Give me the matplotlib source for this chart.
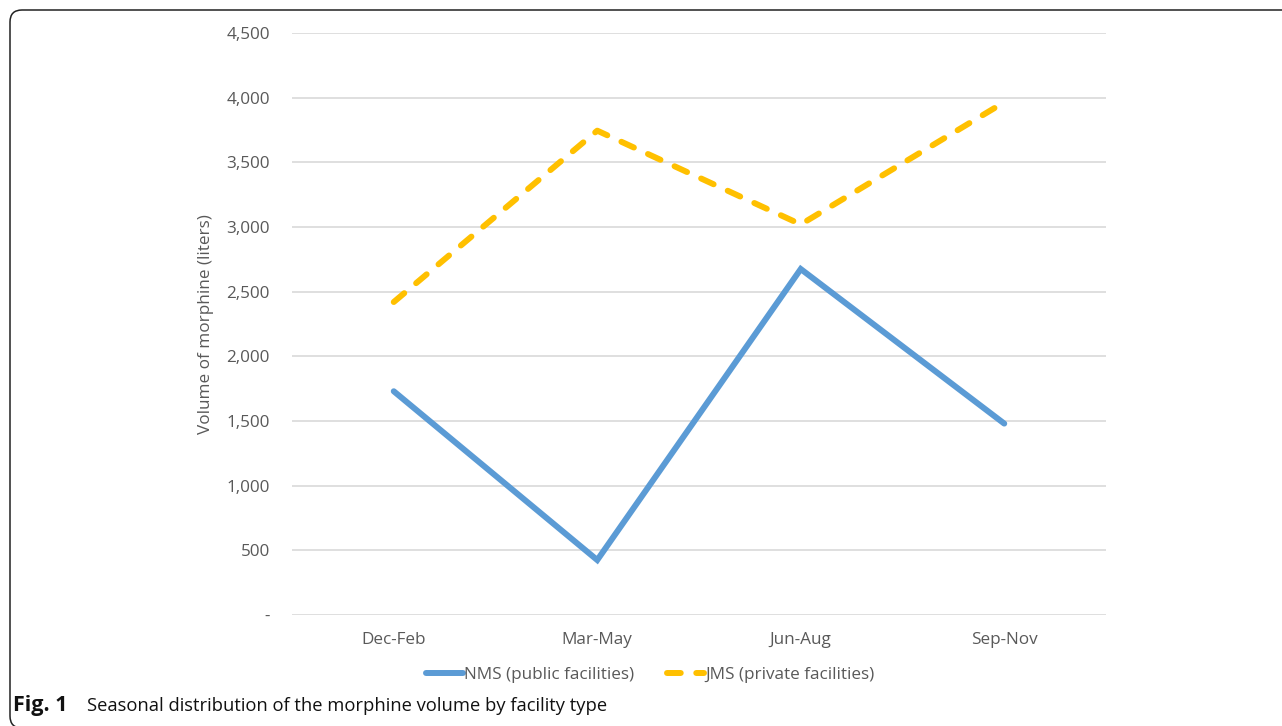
import matplotlib
matplotlib.use('Agg')
import matplotlib.pyplot as plt
from matplotlib.patches import FancyBboxPatch
from matplotlib.transforms import IdentityTransform
from matplotlib.ticker import FuncFormatter

seasons = ['Dec-Feb', 'Mar-May', 'Jun-Aug', 'Sep-Nov']
nms = [1730, 425, 2675, 1480]
jms = [2420, 3745, 3020, 3965]
nms_label = 'NMS (public facilities)'
jms_label = 'JMS (private facilities)'
ylabel = 'Volume of morphine (liters)'

plt.rcParams['font.family'] = ['Open Sans', 'DejaVu Sans']
txt = '#595959'
fs = 12.3

fig = plt.figure(figsize=(12.82, 7.26), dpi=100)
ax = fig.add_axes([292/1282, 1-615/726, (1106-292)/1282, (615-33)/726])

x = range(len(seasons))
ax.plot(x, nms, color='#5B9BD5', lw=4.3, solid_capstyle='round',
        solid_joinstyle='miter', label=nms_label)
ax.plot(x, jms, color='#FFC000', lw=4.3, dashes=(2.3, 2.6),
        dash_capstyle='round', label=jms_label)

ax.set_xlim(-0.5, len(seasons)-0.5)
ax.set_ylim(0, 4500)
ax.set_yticks(range(0, 4501, 500))
ax.yaxis.set_major_formatter(FuncFormatter(lambda v, p: '-' if v == 0 else f'{int(v):,}'))
ax.set_xticks(list(x))
ax.set_xticklabels(seasons)
ax.grid(axis='y', color='#D9D9D9', lw=1.2)
ax.set_axisbelow(True)
for s in ax.spines.values():
    s.set_visible(False)
ax.tick_params(axis='y', length=0, pad=16, labelsize=fs, labelcolor=txt)
ax.tick_params(axis='x', length=0, pad=12, labelsize=fs, labelcolor=txt)
ax.set_ylabel(ylabel, fontsize=fs, color=txt, labelpad=9)

fig.legend(loc='center', bbox_to_anchor=(650/1282, 1-675/726), ncol=2,
           frameon=False, fontsize=fs, handlelength=2.2, handletextpad=0.05,
           columnspacing=1.9, labelcolor=txt)

fig.text(13/1282, 1-706/726, 'Fig. 1', fontsize=15.5, fontweight='bold',
         va='center', ha='left', color='#111111')
fig.text(87/1282, 1-706/726, 'Seasonal distribution of the morphine volume by facility type',
         fontsize=13.2, va='center', ha='left', color='#111111')

frame = FancyBboxPatch((10, -2), 1300, 718, boxstyle='round,pad=0,rounding_size=12',
                       transform=IdentityTransform(), fill=False, ec='#222222',
                       lw=1.1, clip_on=False)
fig.patches.append(frame)

fig.savefig('out.png', dpi=100)
